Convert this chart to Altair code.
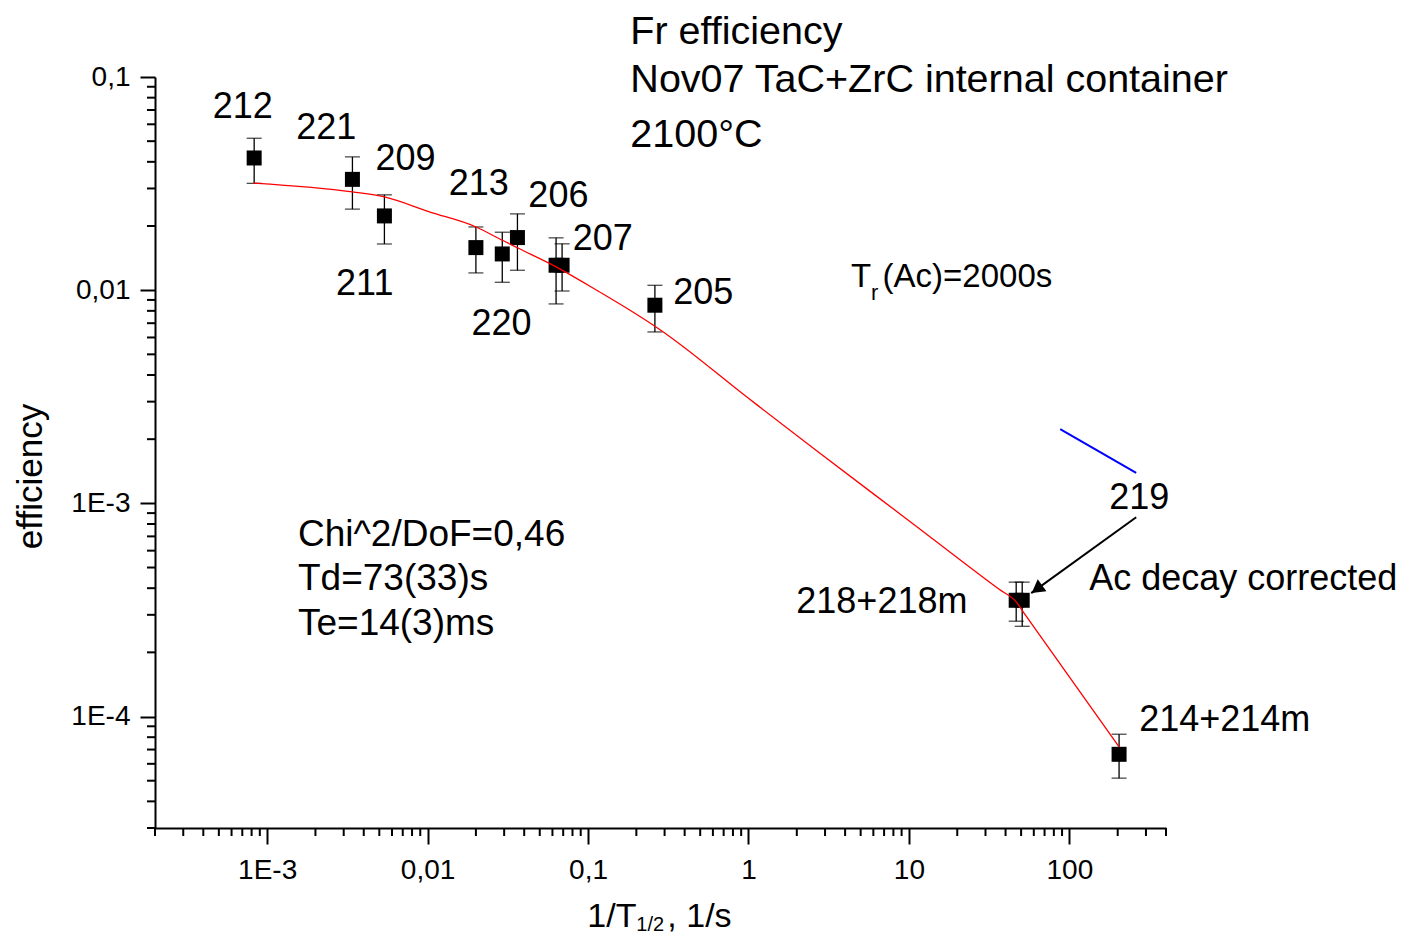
import altair as alt
import pandas as pd

# Fr isotopes: 1/T1/2 (1/s) against efficiency, with error bars
nuclide = ["212", "221", "211", "209", "213", "220", "206", "207", "205", "218", "218m", "214"]
inv_t = [8.3e-4, 3.40e-3, 5.38e-3, 0.0200, 0.0292, 0.0363, 0.0632, 0.0689, 0.261, 46.6, 50.8, 204]
eff = [0.0417, 0.0331, 0.0223, 0.01584, 0.01479, 0.01765, 0.01309, 0.01309, 0.0085, 3.51e-4, 3.51e-4, 6.65e-5]
eff_hi = [0.0516, 0.0422, 0.0280, 0.0198, 0.0187, 0.0228, 0.0176, 0.0165, 0.01054, 4.27e-4, 4.27e-4, 8.26e-5]
eff_lo = [0.0317, 0.0240, 0.01647, 0.01205, 0.01089, 0.0124, 0.00862, 0.00991, 0.00637, 2.80e-4, 2.65e-4, 5.14e-5]

# fitted curve (red)
fit_x = [8.21e-4, 3.40e-3, 5.38e-3, 0.01026, 0.02004, 0.02924, 0.03626, 0.0662, 0.1175,
         0.1806, 0.278, 1.0, 2.634, 10.0, 36.5, 46.6, 52.3, 204]
fit_y = [0.0318, 0.0289, 0.0274, 0.0233, 0.01979, 0.01714, 0.01581, 0.01263, 0.00983,
         0.00809, 0.00656, 0.00311, 0.001774, 8.29e-4, 3.95e-4, 3.45e-4, 3.05e-4, 7.2e-5]

# short blue segment and the arrow to 219
blue_x = [87.6, 260.8]
blue_y = [2.23e-3, 1.39e-3]
arrow_x = [260.8, 57.8]
arrow_y = [8.61e-4, 3.79e-4]
head_x = [62.7]
head_y = [3.96e-4]

# annotations (left edge, baseline) in data units
point_text = ["212", "221", "209", "213", "206", "207", "211", "220", "205",
              "219", "218+218m", "214+214m", "Ac decay corrected"]
point_text_x = [4.58e-4, 1.52e-3, 4.73e-3, 0.01353, 0.04246, 0.0802, 2.69e-3, 0.01875, 0.34,
                177, 1.986, 272, 132.9]
point_text_y = [0.0645, 0.0514, 0.0368, 0.02786, 0.02456, 0.01539, 0.00946, 0.00614, 0.00859,
                9.45e-4, 3.06e-4, 8.56e-5, 3.94e-4]

title_text = ["Fr efficiency", "Nov07 TaC+ZrC internal container", "2100°C"]
title_x = [0.1835, 0.1835, 0.1835]
title_y = [0.1423, 0.0850, 0.0470]

fit_text = ["Chi^2/DoF=0,46", "Td=73(33)s", "Te=14(3)ms"]
fit_text_x = [1.556e-3, 1.556e-3, 1.556e-3]
fit_text_y = [6.31e-4, 3.91e-4, 2.41e-4]

tr_text = ["T", "(Ac)=2000s"]
tr_x = [4.35, 6.85]
tr_y = [0.01035, 0.01035]
tr_sub = ["r"]
tr_sub_x = [5.80]
tr_sub_y = [0.00897]

xtitle_text = ["1/T", ", 1/s"]
xtitle_x = [0.0990, 0.312]
xtitle_y = [1.028e-5, 1.028e-5]
xtitle_sub = ["1/2"]
xtitle_sub_x = [0.200]
xtitle_sub_y = [9.84e-6]

# axis ticks
x_major = [1e-3, 1e-2, 1e-1, 1, 10, 100]
x_major_labels = ["1E-3", "0,01", "0,1", "1", "10", "100"]
y_major = [1e-4, 1e-3, 1e-2, 1e-1]
y_major_labels = ["1E-4", "1E-3", "0,01", "0,1"]
x_minor = [k * 10.0 ** e for e in range(-4, 3) for k in range(2, 10) if 1.9e-4 <= k * 10.0 ** e <= 401]
y_minor = [k * 10.0 ** e for e in range(-5, -1) for k in range(2, 10) if 2.9e-5 <= k * 10.0 ** e <= 0.1001]

FONT = "Liberation Sans"
W, H = 1011, 751

xs = alt.Scale(type="log", domain=[2e-4, 400], nice=False)
ys = alt.Scale(type="log", domain=[3e-5, 0.1], nice=False)


def label_expr(values, labels):
    expr = "''"
    for v, t in zip(values, labels):
        expr = f"abs(datum.value - {v}) < {v * 1e-6} ? '{t}' : ({expr})"
    return expr


def xq(field="x"):
    return alt.X(f"{field}:Q", scale=xs)


def yq(field="y"):
    return alt.Y(f"{field}:Q", scale=ys)


def texts(labels, xv, yv, size):
    df = pd.DataFrame({"t": labels, "x": xv, "y": yv})
    return alt.Chart(df).mark_text(
        align="left", baseline="alphabetic", font=FONT, fontSize=size, color="black"
    ).encode(x=xq(), y=yq(), text="t:N")


pts = pd.DataFrame({"id": nuclide, "x": inv_t, "y": eff, "lo": eff_lo, "hi": eff_hi})
caps = pd.DataFrame({"x": inv_t + inv_t, "y": eff_lo + eff_hi})

points = alt.Chart(pts).mark_point(
    shape="square", filled=True, size=225, color="black", opacity=1
).encode(
    x=alt.X("x:Q", scale=xs, axis=alt.Axis(
        values=x_major, labelExpr=label_expr(x_major, x_major_labels),
        tickSize=16, labelBaseline="alphabetic", labelPadding=34,
        labelFlush=False, labelOverlap=False, title="", grid=False)),
    y=alt.Y("y:Q", scale=ys, axis=alt.Axis(
        values=y_major, labelExpr=label_expr(y_major, y_major_labels),
        tickSize=15, labelPadding=10, labelOverlap=False, grid=False,
        title="efficiency", titleFontSize=35, titleFont=FONT, titleFontWeight="normal",
        titleColor="black", titleAngle=270, titleBaseline="alphabetic", titleAlign="center",
        titleX=-114, titleY=399)),
)

bars = alt.Chart(pts).mark_rule(color="black", strokeWidth=1.3).encode(
    x=xq(), y=yq("lo"), y2="hi:Q"
)
bar_caps = alt.Chart(caps).mark_tick(
    orient="horizontal", size=15, thickness=1.3, color="black"
).encode(x=xq(), y=yq())

fit = alt.Chart(pd.DataFrame({"x": fit_x, "y": fit_y})).mark_line(
    color="#ff0000", strokeWidth=1.3, interpolate="monotone"
).encode(x=xq(), y=yq())

blue = alt.Chart(pd.DataFrame({"x": blue_x, "y": blue_y})).mark_line(
    color="#0000ff", strokeWidth=2
).encode(x=xq(), y=yq())

arrow = alt.Chart(pd.DataFrame({"x": arrow_x, "y": arrow_y})).mark_line(
    color="black", strokeWidth=2
).encode(x=xq(), y=yq())
head = alt.Chart(pd.DataFrame({"x": head_x, "y": head_y})).mark_point(
    shape="triangle-up", filled=True, size=220, angle=234, color="black", opacity=1
).encode(x=xq(), y=yq())

# minor ticks, shorter than the major axis ticks
x_minor_ticks = alt.Chart(pd.DataFrame({"x": x_minor})).mark_rule(
    color="black", strokeWidth=2
).encode(x=xq(), y=alt.value(H), y2=alt.value(H + 8))
y_minor_ticks = alt.Chart(pd.DataFrame({"y": y_minor})).mark_rule(
    color="black", strokeWidth=2
).encode(y=yq(), x=alt.value(-8), x2=alt.value(0))

chart = alt.layer(
    points,
    x_minor_ticks,
    y_minor_ticks,
    bars,
    bar_caps,
    fit,
    blue,
    arrow,
    head,
    texts(point_text, point_text_x, point_text_y, 36),
    texts(title_text, title_x, title_y, 39.5),
    texts(fit_text, fit_text_x, fit_text_y, 37),
    texts(tr_text, tr_x, tr_y, 33),
    texts(tr_sub, tr_sub_x, tr_sub_y, 22),
    texts(xtitle_text, xtitle_x, xtitle_y, 34),
    texts(xtitle_sub, xtitle_sub_x, xtitle_sub_y, 20),
).properties(
    width=W,
    height=H,
    autosize="none",
    padding={"left": 147, "top": 69, "right": 237, "bottom": 108},
    background="white",
).configure_view(
    stroke=None
).configure_axis(
    domainColor="black",
    domainWidth=2,
    tickColor="black",
    tickWidth=2,
    labelColor="black",
    labelFont=FONT,
    labelFontSize=28,
)

chart.save("out.html", embed_options={"renderer": "svg", "actions": False})
